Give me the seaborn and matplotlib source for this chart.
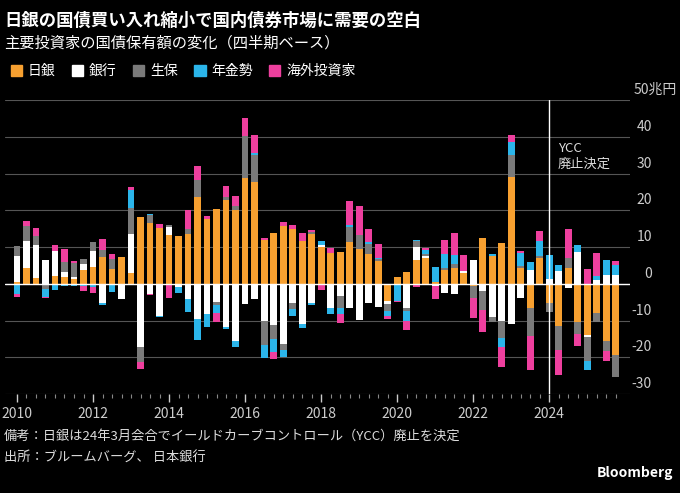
import numpy as np
import pandas as pd
import seaborn as sns
from matplotlib import pyplot as plt
from matplotlib.patches import Patch
from matplotlib.transforms import blended_transform_factory

sns.set_theme(style='dark')
plt.rcParams['font.family'] = ['Noto Sans CJK JP', 'DejaVu Sans']

# quarterly change, 2010Q1 .. 2025Q4 (trillion yen)
quarters = pd.period_range('2010Q1', '2025Q4', freq='Q')
boj = [0.6, 4.3, 1.7, -0.3, 2.0, 1.8, 1.4, 3.8, 4.5, 7.2, 4.1, 7.3,
       2.9, 18.1, 16.5, 15.2, 13.2, 13.1, 13.5, 23.6, 17.7, 20.4, 22.9, 20.0,
       28.8, 27.6, 11.8, 13.8, 15.8, 14.9, 11.5, 13.6, 10.0, 8.5, 8.6, 11.4,
       9.5, 8.0, 6.1, -4.8, 1.8, 3.3, 6.5, 7.0, 0.6, 3.8, 4.3, 2.9,
       -0.7, 12.5, 7.5, 11.1, 29.1, 4.3, -6.6, 7.0, -5.3, -11.6, 4.3, -10.3,
       -13.9, -8.0, -15.7, -19.5]
banks = [6.9, 7.3, 8.9, 6.4, 7.0, 1.3, 0.5, 1.5, 4.4, -5.3, 0.0, -4.2,
         10.7, -17.1, -2.7, -8.7, 2.3, -0.9, -4.2, -9.6, -8.3, -5.0, -11.8, -15.7,
         -5.5, -4.1, -10.0, -11.2, -16.4, -5.3, -11.0, -5.3, 0.5, -6.6, -3.3, -6.6,
         -9.8, -5.3, -6.2, -0.6, 0.0, -6.6, 3.5, 0.5, -0.7, -2.5, -2.8, 0.6,
         6.4, -2.1, -9.1, -10.1, -11.0, -3.9, 3.8, 0.0, 1.4, 3.6, -1.2, 8.6,
         -0.6, 1.1, 2.5, 2.5]
insurers = [2.9, 4.1, 2.5, -1.2, 0.0, 2.8, 3.8, 1.4, 2.5, 2.1, 2.6, 0.0,
            7.0, -4.1, 2.1, 0.0, 0.5, 0.0, 1.4, 4.5, 0.0, -0.7, 0.7, 1.1,
            11.4, 7.4, -6.8, -3.9, -1.6, -1.5, 0.0, 0.5, 0.0, 0.0, -3.4, 4.1,
            3.9, 2.9, 0.5, -2.1, 0.0, -0.9, 1.5, 0.5, 0.0, 0.5, 1.2, 0.0,
            -3.2, -5.0, -1.4, -4.7, 5.8, 0.5, -7.5, 0.5, -2.3, -6.5, 2.7, -3.5,
            -6.6, -2.3, -2.7, -5.9]
pension = [-2.7, 0.0, 0.0, -2.0, -1.8, -0.7, -0.7, -0.7, -0.9, -0.5, -2.3, 0.0,
           5.0, 0.0, 0.5, -0.4, -0.3, -1.6, -3.6, -5.8, -3.4, -2.3, -0.5, -1.6,
           0.0, 0.5, -3.5, -3.4, -1.8, -2.1, -1.1, -0.5, 1.1, -1.5, -1.5, 0.5,
           0.0, 0.5, 0.5, -1.4, -4.6, -2.7, 0.3, 1.1, 4.0, 3.9, 2.2, 0.0,
           0.0, 0.0, 0.5, -2.5, 3.6, 3.5, 2.0, 4.1, 6.4, 1.4, 0.0, 2.0,
           -2.5, 0.9, 4.0, 2.7]
foreign = [-1.0, 1.5, 2.0, -0.5, 1.5, 3.5, 0.5, -1.3, -1.6, 3.0, 1.5, 0.0,
           0.7, -1.9, -0.4, 1.1, -3.6, 0.0, 5.3, 4.0, 0.8, -2.5, 3.1, 2.9,
           4.8, 5.0, 0.6, -2.1, 0.9, 1.1, 2.2, 0.5, -1.6, 1.3, -2.5, 6.4,
           7.7, 3.5, 3.6, -0.7, -0.5, -2.5, -0.9, 0.5, -3.5, 3.6, 6.0, 4.4,
           -5.5, -5.9, 0.0, -5.4, 1.9, 0.6, -9.3, 2.7, 0.0, -6.8, 7.9, -3.2,
           4.0, 6.4, -2.7, 1.1]

series = ['日銀', '銀行', '生保', '年金勢', '海外投資家']
colors = ['#F7A030', '#FFFFFF', '#7A7A7A', '#2BB5EA', '#EE3F9E']
values = np.array([boj, banks, insurers, pension, foreign])

fig = plt.figure(figsize=(6.8, 4.93), dpi=100, facecolor='black')
ax = fig.add_axes([5 / 680, 1 - 394 / 493, 625 / 680, 294 / 493])
ax.set_facecolor('black')

x = np.arange(len(quarters))
pos_base = np.zeros(len(x))
neg_base = np.zeros(len(x))
for vals, c in zip(values, colors):
    pos = np.where(vals > 0, vals, 0)
    neg = np.where(vals < 0, vals, 0)
    ax.bar(x, pos, bottom=pos_base, width=0.72, color=c, linewidth=0, zorder=3)
    ax.bar(x, neg, bottom=neg_base, width=0.72, color=c, linewidth=0, zorder=3)
    pos_base += pos
    neg_base += neg

ax.set_xlim(-1.26, 64.5)
ax.set_ylim(-30, 50)
ax.set_yticks(range(-30, 51, 10))
ax.yaxis.grid(True, color='#555555', linewidth=0.8)
ax.xaxis.grid(False)
ax.axhline(0, color='white', linewidth=1, zorder=4)
ax.tick_params(axis='y', left=False, right=False, labelleft=False)
for s in ax.spines.values():
    s.set_visible(False)

tr = blended_transform_factory(ax.transAxes, ax.transData)
for v in range(-30, 50, 10):
    ax.text(1.035, v + 0.8, str(v), transform=tr, ha='right', va='bottom',
            color='#CCCCCC', fontsize=10)
ax.text(1.075, 50 + 0.8, '50兆円', transform=tr, ha='right', va='bottom',
        color='#CCCCCC', fontsize=10)

# x ticks: quarters minor, years major
ax.set_xticks(np.arange(0, 64, 1), minor=True)
ax.set_xticks(np.arange(0, 64, 8))
ax.set_xticklabels([str(q.year) for q in quarters[::8]], color='#CCCCCC', fontsize=10)
ax.tick_params(axis='x', which='major', bottom=True, length=6, color='#CCCCCC', width=1, pad=3)
ax.tick_params(axis='x', which='minor', bottom=True, length=3, color='#888888', width=0.8)

# YCC line
ax.axvline(56, color='white', linewidth=1, zorder=5)
ax.text(56.9, 38.5, 'YCC\n廃止決定', color='#DDDDDD', fontsize=9.5, va='top', ha='left',
        linespacing=1.2)

fig.text(0.006, 0.975, '日銀の国債買い入れ縮小で国内債券市場に需要の空白', color='white',
         fontsize=12.5, fontweight='bold', va='top')
fig.text(0.006, 0.93, '主要投資家の国債保有額の変化（四半期ベース）', color='white',
         fontsize=11, va='top')
handles = [Patch(color=c) for c in colors]
leg = fig.legend(handles, series, loc='upper left', bbox_to_anchor=(-0.002, 0.895), ncol=5,
                 frameon=False, fontsize=10, handlelength=0.8, handleheight=0.8,
                 handletextpad=0.4, columnspacing=1.2, labelcolor='white')
fig.text(0.006, 0.115, '備考：日銀は24年3月会合でイールドカーブコントロール（YCC）廃止を決定',
         color='#DDDDDD', fontsize=9.5, va='center')
fig.text(0.006, 0.07, '出所：ブルームバーグ、 日本銀行', color='#DDDDDD', fontsize=9.5, va='center')
fig.text(0.99, 0.04, 'Bloomberg', color='white', fontsize=10, fontweight='bold',
         ha='right', va='center')

fig.savefig('out.png', dpi=100, facecolor='black')
